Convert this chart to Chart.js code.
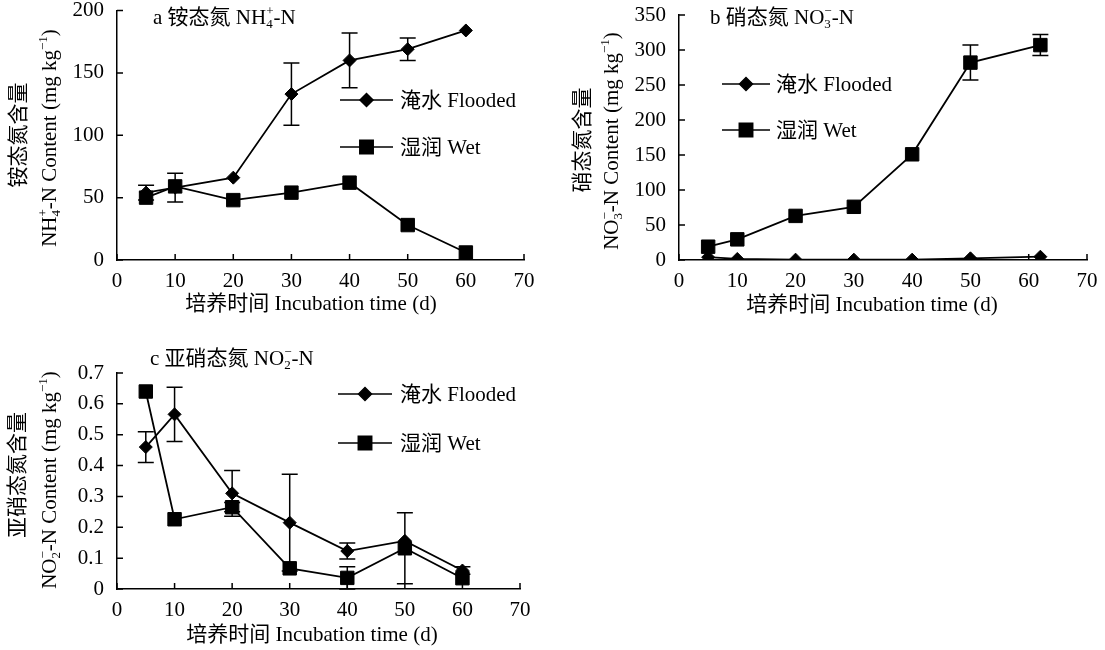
<!DOCTYPE html>
<html>
<head>
<meta charset="utf-8">
<script src="https://cdn.jsdelivr.net/npm/chart.js@4"></script>
<style>
  body { margin: 0; background: #fff; width: 1105px; height: 650px; position: relative; overflow: hidden; }
  canvas { position: absolute; }
</style>
</head>
<body>
<canvas id="chartA" width="550" height="325" style="left:0;top:0"></canvas>
<canvas id="chartB" width="550" height="325" style="left:555px;top:0"></canvas>
<canvas id="chartC" width="550" height="320" style="left:0;top:330px"></canvas>
<script>
// incubation days
const days = [5, 10, 20, 30, 40, 50, 60]
const daysB = [5, 10, 20, 30, 40, 50, 62]
const xTicks = [0, 10, 20, 30, 40, 50, 60, 70]

// a  NH4+-N (mg/kg)
const nh4Flooded = [54, 58, 66, 133, 160, 169, 184]
const nh4FloodedErr = [6, 11.5, null, 25, 22, 9, null]
const nh4Wet = [50, 59, 48, 54, 62, 28, 6]

// b  NO3--N (mg/kg)
const no3Flooded = [4, 1.5, 0.5, 0.5, 0.5, 2.4, 4.7]
const no3Wet = [19, 29.5, 63, 76, 151, 282, 307]
const no3WetErr = [null, null, null, null, null, 25, 15]

// c  NO2--N (mg/kg)
const no2Flooded = [0.46, 0.566, 0.31, 0.215, 0.123, 0.156, 0.06]
const no2FloodedErr = [0.05, 0.088, 0.074, 0.157, 0.026, null, 0.012]
const no2Wet = [0.64, 0.226, 0.265, 0.067, 0.036, 0.132, 0.035]
const no2WetErr = [null, null, 0.015, null, 0.036, 0.115, null]

const FONT = "'Liberation Serif', 'Noto Sans CJK SC', serif"
const SIZE = 21

// text pieces: plain strings, or {sub, sup} drawn small and stacked
function richWidth(ctx, segs, size) {
    let w = 0
    segs.forEach(s => {
        if (typeof s === 'string') {
            ctx.font = size + 'px ' + FONT
            w += ctx.measureText(s).width
        } else {
            ctx.font = Math.round(size * 0.62) + 'px ' + FONT
            w += Math.max(ctx.measureText(s.sub || '').width, ctx.measureText(s.sup || '').width)
        }
    })
    return w
}

function drawRich(ctx, segs, x, y, size, align) {
    let w = richWidth(ctx, segs, size)
    let cx = align === 'left' ? x : x - w / 2
    let base = y + size * 0.33
    ctx.textAlign = 'left'
    ctx.textBaseline = 'alphabetic'
    segs.forEach(s => {
        if (typeof s === 'string') {
            ctx.font = size + 'px ' + FONT
            ctx.fillText(s, cx, base)
            cx += ctx.measureText(s).width
        } else {
            ctx.font = Math.round(size * 0.62) + 'px ' + FONT
            if (s.sub) ctx.fillText(s.sub, cx, base + size * 0.2)
            if (s.sup) ctx.fillText(s.sup, cx, base - size * 0.42)
            cx += Math.max(ctx.measureText(s.sub || '').width, ctx.measureText(s.sup || '').width)
        }
    })
}

const xTitle = ['培养时间 Incubation time (d)']

const panels = {
    chartA: {
        title: ['a 铵态氮 NH', {sub: '4', sup: '+'}, '-N'], titleAt: [153, 17],
        y1: '铵态氮含量', y1At: [18, 135],
        y2: ['NH', {sub: '4', sup: '+'}, '-N Content (mg kg', {sup: '−1'}, ')'], y2At: [49, 138],
        xTitleAt: [311, 303],
        legend: {x1: 340, x2: 393, text: 400, y: [100, 147]}
    },
    chartB: {
        title: ['b 硝态氮 NO', {sub: '3', sup: '−'}, '-N'], titleAt: [155, 17],
        y1: '硝态氮含量', y1At: [27, 140],
        y2: ['NO', {sub: '3', sup: '−'}, '-N Content (mg kg', {sup: '−1'}, ')'], y2At: [56, 141],
        xTitleAt: [317, 304],
        legend: {x1: 167, x2: 215, text: 221, y: [84, 130]}
    },
    chartC: {
        title: ['c 亚硝态氮 NO', {sub: '2', sup: '−'}, '-N'], titleAt: [150, 28],
        y1: '亚硝态氮含量', y1At: [17, 145],
        y2: ['NO', {sub: '2', sup: '−'}, '-N Content (mg kg', {sup: '−1'}, ')'], y2At: [49, 150],
        xTitleAt: [312, 304],
        legend: {x1: 338, x2: 392, text: 400, y: [64, 113]}
    }
}

const decor = {
    id: 'decor',
    beforeDatasetsDraw(chart) {
        let ctx = chart.ctx
        let ys = chart.scales.y
        ctx.save()
        ctx.strokeStyle = '#000'
        ctx.lineWidth = 1.5
        chart.data.datasets.forEach((ds, i) => {
            if (!ds.errors) return
            let meta = chart.getDatasetMeta(i)
            ds.errors.forEach((e, j) => {
                if (e == null) return
                let p = meta.data[j]
                let v = ds.data[j].y
                let top = ys.getPixelForValue(v + e)
                let bot = ys.getPixelForValue(Math.max(v - e, 0))
                ctx.beginPath()
                ctx.moveTo(p.x, top); ctx.lineTo(p.x, bot)
                ctx.moveTo(p.x - 8, top); ctx.lineTo(p.x + 8, top)
                ctx.moveTo(p.x - 8, bot); ctx.lineTo(p.x + 8, bot)
                ctx.stroke()
            })
        })
        ctx.restore()
    },
    afterDraw(chart) {
        let ctx = chart.ctx
        let cfg = panels[chart.canvas.id]
        let {x: xs, y: ys} = chart.scales
        let area = chart.chartArea
        ctx.save()
        ctx.strokeStyle = '#000'
        ctx.fillStyle = '#000'
        ctx.lineWidth = 1.5
        // inward tick marks
        ctx.beginPath()
        ys.ticks.forEach(t => {
            let py = ys.getPixelForValue(t.value)
            ctx.moveTo(area.left, py); ctx.lineTo(area.left + 6, py)
        })
        xs.ticks.forEach(t => {
            let px = xs.getPixelForValue(t.value)
            ctx.moveTo(px, area.bottom); ctx.lineTo(px, area.bottom - 6)
        })
        ctx.stroke()

        drawRich(ctx, cfg.title, cfg.titleAt[0], cfg.titleAt[1], SIZE, 'left')
        drawRich(ctx, xTitle, cfg.xTitleAt[0], cfg.xTitleAt[1], SIZE, 'center')

        ctx.save()
        ctx.translate(cfg.y1At[0], cfg.y1At[1])
        ctx.rotate(-Math.PI / 2)
        drawRich(ctx, [cfg.y1], 0, 0, SIZE, 'center')
        ctx.restore()
        ctx.save()
        ctx.translate(cfg.y2At[0], cfg.y2At[1])
        ctx.rotate(-Math.PI / 2)
        drawRich(ctx, cfg.y2, 0, 0, SIZE, 'center')
        ctx.restore()

        // legend
        let lg = cfg.legend
        chart.data.datasets.forEach((ds, i) => {
            let ly = lg.y[i]
            ctx.lineWidth = 1.5
            ctx.beginPath()
            ctx.moveTo(lg.x1, ly); ctx.lineTo(lg.x2, ly)
            ctx.stroke()
            Chart.helpers.drawPoint(ctx, {
                pointStyle: ds.pointStyle, radius: ds.pointRadius, rotation: 0, borderWidth: 1
            }, (lg.x1 + lg.x2) / 2, ly)
            drawRich(ctx, [ds.label], lg.text, ly, SIZE, 'left')
        })
        ctx.restore()
    }
}

function series(xs, ys) {
    return xs.map((d, i) => ({x: d, y: ys[i]}))
}

function makeChart(id, xs, flooded, floodedErr, wet, wetErr, yMax, yStep, box) {
    new Chart(document.getElementById(id), {
        type: 'line',
        data: {
            datasets: [
                {
                    label: '淹水 Flooded',
                    data: series(xs, flooded),
                    errors: floodedErr,
                    borderColor: '#000',
                    backgroundColor: '#000',
                    borderWidth: 1.8,
                    pointStyle: 'rectRot',
                    pointRadius: 6.5,
                    pointBorderWidth: 1,
                },
                {
                    label: '湿润 Wet',
                    data: series(xs, wet),
                    errors: wetErr,
                    borderColor: '#000',
                    backgroundColor: '#000',
                    borderWidth: 1.8,
                    pointStyle: 'rect',
                    pointRadius: 9.5,
                    pointBorderWidth: 1,
                }
            ]
        },
        options: {
            responsive: false,
            animation: false,
            layout: {padding: {top: box.top, right: box.right, left: 0, bottom: 0}},
            plugins: {legend: {display: false}, tooltip: {enabled: false}},
            scales: {
                x: {
                    type: 'linear',
                    min: 0,
                    max: 70,
                    afterBuildTicks: s => { s.ticks = xTicks.map(v => ({value: v})) },
                    afterFit: s => { s.height = box.xh; s.paddingLeft = 0; s.paddingRight = 0 },
                    grid: {display: false},
                    border: {display: true, color: '#000', width: 1.5},
                    ticks: {color: '#000', padding: 1, maxRotation: 0, font: {family: FONT, size: SIZE}}
                },
                y: {
                    min: 0,
                    max: yMax,
                    afterFit: s => { s.width = box.left; s.paddingTop = 0; s.paddingBottom = 0 },
                    grid: {display: false},
                    border: {display: true, color: '#000', width: 1.5},
                    ticks: {stepSize: yStep, color: '#000', padding: 5, font: {family: FONT, size: SIZE}}
                }
            }
        },
        plugins: [decor]
    })
}

makeChart('chartA', days, nh4Flooded, nh4FloodedErr, nh4Wet, null, 200, 50,
    {left: 117, top: 10, right: 26, xh: 65})
makeChart('chartB', daysB, no3Flooded, null, no3Wet, no3WetErr, 350, 50,
    {left: 124, top: 15, right: 18, xh: 65})
makeChart('chartC', days, no2Flooded, no2FloodedErr, no2Wet, no2WetErr, 0.7, 0.1,
    {left: 117, top: 43, right: 30, xh: 61})
</script>
</body>
</html>
